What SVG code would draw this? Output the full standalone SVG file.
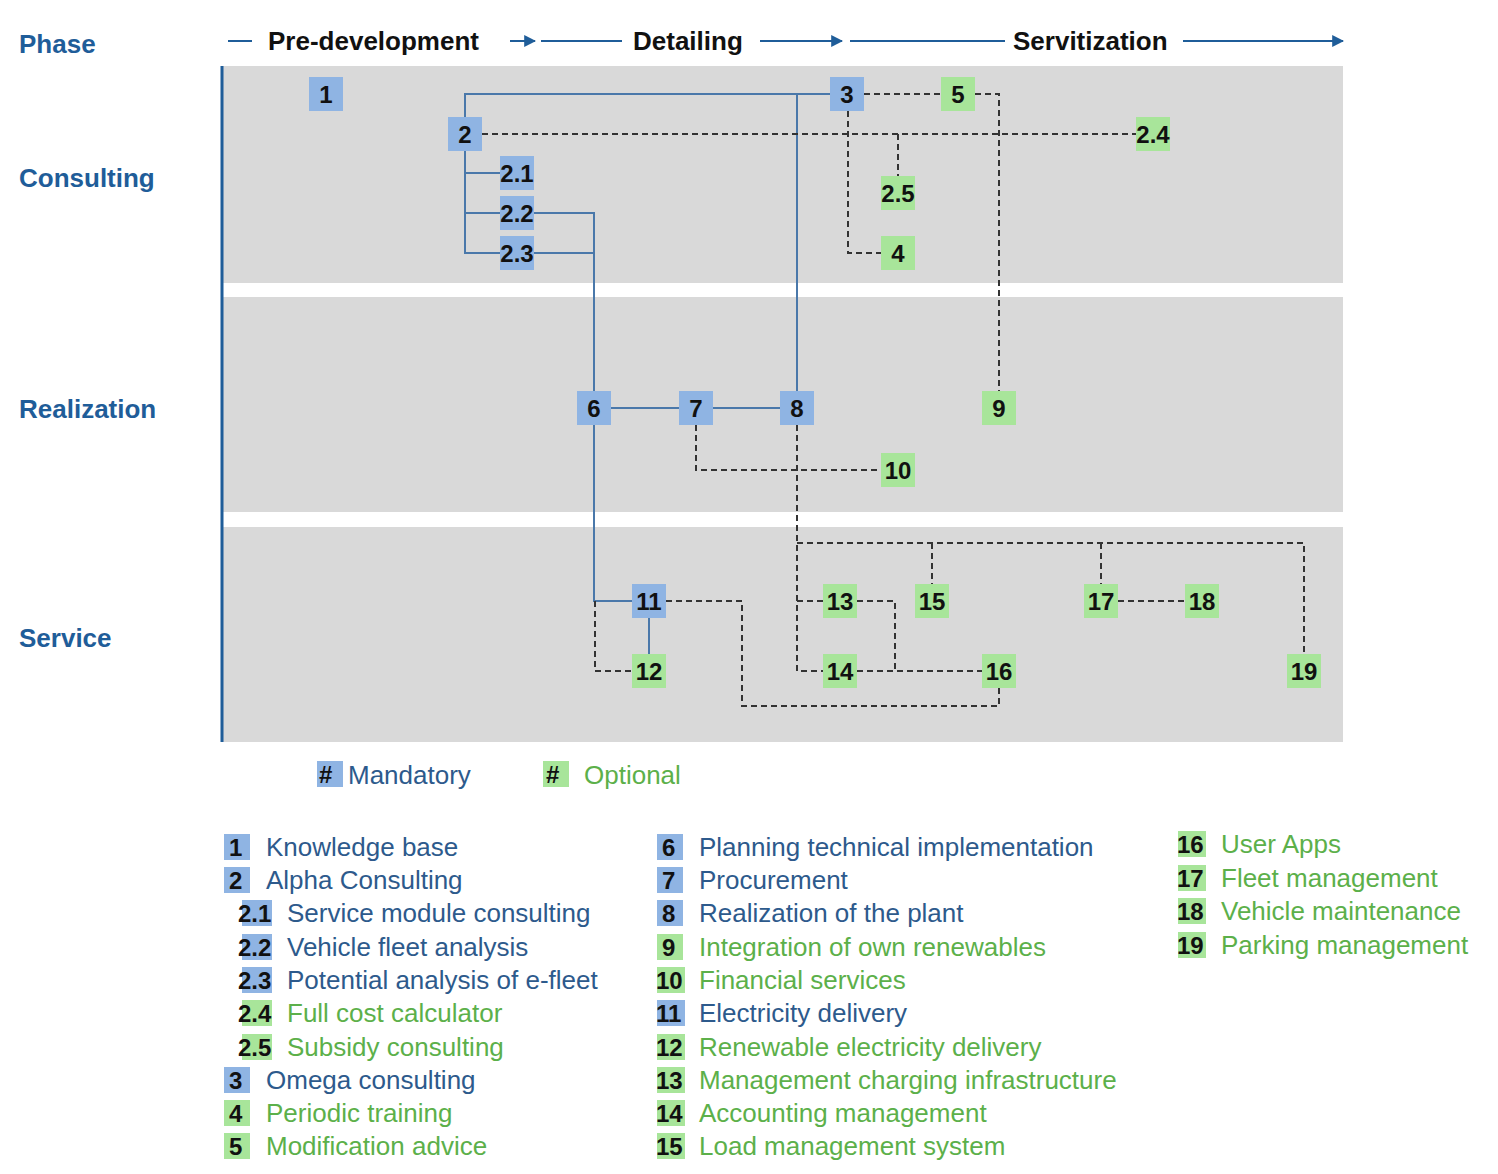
<svg xmlns="http://www.w3.org/2000/svg" width="1498" height="1174" viewBox="0 0 1498 1174">
<defs>
<style>
.band{fill:#d9d9d9}
.m{fill:#8fb4e3}
.o{fill:#a8e59a}
.n{font:bold 24px "Liberation Sans",Arial,sans-serif;fill:#111;text-anchor:middle}
.ph{font:bold 26px "Liberation Sans",Arial,sans-serif;fill:#1f5d99}
.hd{font:bold 26px "Liberation Sans",Arial,sans-serif;fill:#111}
.s{fill:none;stroke:#4a78aa;stroke-width:2}
.d{fill:none;stroke:#333;stroke-width:2;stroke-dasharray:6,4}
.lt{font:26px "Liberation Sans",Arial,sans-serif}
.lm{fill:#2d5a8c}
.lo{fill:#5cb04a}
.ln{font:bold 24px "Liberation Sans",Arial,sans-serif;fill:#111}
.ax{stroke:#1f5d99;stroke-width:2;fill:none}
</style>
<marker id="ah" viewBox="0 0 10 10" refX="9" refY="5" markerWidth="6" markerHeight="6" orient="auto"><path d="M0,0L10,5L0,10z" fill="#1f5d99"/></marker>
</defs>
<rect width="1498" height="1174" fill="#fff"/>
<g id="bands">
<rect class="band" x="222" y="66" width="1121" height="217"/>
<rect class="band" x="222" y="297" width="1121" height="215"/>
<rect class="band" x="222" y="527" width="1121" height="215"/>
<line x1="222" y1="66" x2="222" y2="742" stroke="#1f5d99" stroke-width="3"/>
</g>
<g id="header">
<text class="ph" x="19" y="53">Phase</text>
<text class="ph" x="19" y="187">Consulting</text>
<text class="ph" x="19" y="418">Realization</text>
<text class="ph" x="19" y="647">Service</text>
<line class="ax" x1="228" y1="41" x2="252" y2="41"/>
<text class="hd" x="268" y="50">Pre-development</text>
<line class="ax" x1="510" y1="41" x2="535" y2="41" marker-end="url(#ah)"/>
<line class="ax" x1="541" y1="41" x2="622" y2="41"/>
<text class="hd" x="633" y="50">Detailing</text>
<line class="ax" x1="760" y1="41" x2="842" y2="41" marker-end="url(#ah)"/>
<line class="ax" x1="850" y1="41" x2="1005" y2="41"/>
<text class="hd" x="1013" y="50">Servitization</text>
<line class="ax" x1="1183" y1="41" x2="1343" y2="41" marker-end="url(#ah)"/>
</g>
<g id="connectors">
<path class="s" d="M465,117V94H830M797,94V391M465,151V253H500M465,173H500M465,213H500M534,213H594V391M534,253H594M594,425V601H632M611,408H679M713,408H780M649,618V654"/>
<path class="d" d="M864,94H941M975,94H999V391M482,134H1136M898,134V176M848,111V253H881M696,425V470H881M797,425V671H823M797,543H1304V654M932,543V584M1101,543V584M797,601H823M857,601H895V671M857,671H982M1118,601H1185M666,601H742V706H999V688M595,601V671H632"/>
</g>
<g id="n1"><rect class="m" x="309" y="77" width="34" height="34"/><text class="n" x="326" y="103">1</text></g>
<g id="n2"><rect class="m" x="448" y="117" width="34" height="34"/><text class="n" x="465" y="143">2</text></g>
<g id="n2_1"><rect class="m" x="500" y="156" width="34" height="34"/><text class="n" x="517" y="182">2.1</text></g>
<g id="n2_2"><rect class="m" x="500" y="196" width="34" height="34"/><text class="n" x="517" y="222">2.2</text></g>
<g id="n2_3"><rect class="m" x="500" y="236" width="34" height="34"/><text class="n" x="517" y="262">2.3</text></g>
<g id="n3"><rect class="m" x="830" y="77" width="34" height="34"/><text class="n" x="847" y="103">3</text></g>
<g id="n5"><rect class="o" x="941" y="77" width="34" height="34"/><text class="n" x="958" y="103">5</text></g>
<g id="n2_4"><rect class="o" x="1136" y="117" width="34" height="34"/><text class="n" x="1153" y="143">2.4</text></g>
<g id="n2_5"><rect class="o" x="881" y="176" width="34" height="34"/><text class="n" x="898" y="202">2.5</text></g>
<g id="n4"><rect class="o" x="881" y="236" width="34" height="34"/><text class="n" x="898" y="262">4</text></g>
<g id="n6"><rect class="m" x="577" y="391" width="34" height="34"/><text class="n" x="594" y="417">6</text></g>
<g id="n7"><rect class="m" x="679" y="391" width="34" height="34"/><text class="n" x="696" y="417">7</text></g>
<g id="n8"><rect class="m" x="780" y="391" width="34" height="34"/><text class="n" x="797" y="417">8</text></g>
<g id="n9"><rect class="o" x="982" y="391" width="34" height="34"/><text class="n" x="999" y="417">9</text></g>
<g id="n10"><rect class="o" x="881" y="453" width="34" height="34"/><text class="n" x="898" y="479">10</text></g>
<g id="n11"><rect class="m" x="632" y="584" width="34" height="34"/><text class="n" x="649" y="610">11</text></g>
<g id="n12"><rect class="o" x="632" y="654" width="34" height="34"/><text class="n" x="649" y="680">12</text></g>
<g id="n13"><rect class="o" x="823" y="584" width="34" height="34"/><text class="n" x="840" y="610">13</text></g>
<g id="n15"><rect class="o" x="915" y="584" width="34" height="34"/><text class="n" x="932" y="610">15</text></g>
<g id="n17"><rect class="o" x="1084" y="584" width="34" height="34"/><text class="n" x="1101" y="610">17</text></g>
<g id="n18"><rect class="o" x="1185" y="584" width="34" height="34"/><text class="n" x="1202" y="610">18</text></g>
<g id="n14"><rect class="o" x="823" y="654" width="34" height="34"/><text class="n" x="840" y="680">14</text></g>
<g id="n16"><rect class="o" x="982" y="654" width="34" height="34"/><text class="n" x="999" y="680">16</text></g>
<g id="n19"><rect class="o" x="1287" y="654" width="34" height="34"/><text class="n" x="1304" y="680">19</text></g>
<g id="legend">
<rect class="m" x="317" y="761" width="26" height="26"/><text class="ln" x="319" y="783">#</text><text class="lt lm" x="348" y="784">Mandatory</text>
<rect class="o" x="543" y="761" width="26" height="26"/><text class="ln" x="546" y="783">#</text><text class="lt lo" x="584" y="784">Optional</text>
<g class="ln">
<rect class="m" x="224" y="834" width="26" height="26"/><text class="ln" x="229" y="856">1</text>
<rect class="m" x="224" y="867" width="26" height="26"/><text class="ln" x="229" y="889">2</text>
<rect class="m" x="242" y="900" width="30" height="26"/><text class="ln" x="238" y="922">2.1</text>
<rect class="m" x="242" y="934" width="30" height="26"/><text class="ln" x="238" y="956">2.2</text>
<rect class="m" x="242" y="967" width="30" height="26"/><text class="ln" x="238" y="989">2.3</text>
<rect class="o" x="242" y="1000" width="30" height="26"/><text class="ln" x="238" y="1022">2.4</text>
<rect class="o" x="242" y="1034" width="30" height="26"/><text class="ln" x="238" y="1056">2.5</text>
<rect class="m" x="224" y="1067" width="26" height="26"/><text class="ln" x="229" y="1089">3</text>
<rect class="o" x="224" y="1100" width="26" height="26"/><text class="ln" x="229" y="1122">4</text>
<rect class="o" x="224" y="1133" width="26" height="26"/><text class="ln" x="229" y="1155">5</text>
<rect class="m" x="657" y="834" width="26" height="26"/><text class="ln" x="662" y="856">6</text>
<rect class="m" x="657" y="867" width="26" height="26"/><text class="ln" x="662" y="889">7</text>
<rect class="m" x="657" y="900" width="26" height="26"/><text class="ln" x="662" y="922">8</text>
<rect class="o" x="657" y="934" width="26" height="26"/><text class="ln" x="662" y="956">9</text>
<rect class="o" x="657" y="967" width="28" height="26"/><text class="ln" x="656" y="989">10</text>
<rect class="m" x="657" y="1000" width="28" height="26"/><text class="ln" x="656" y="1022">11</text>
<rect class="o" x="657" y="1034" width="28" height="26"/><text class="ln" x="656" y="1056">12</text>
<rect class="o" x="657" y="1067" width="28" height="26"/><text class="ln" x="656" y="1089">13</text>
<rect class="o" x="657" y="1100" width="28" height="26"/><text class="ln" x="656" y="1122">14</text>
<rect class="o" x="657" y="1133" width="28" height="26"/><text class="ln" x="656" y="1155">15</text>
<rect class="o" x="1178" y="831" width="28" height="26"/><text class="ln" x="1177" y="853">16</text>
<rect class="o" x="1178" y="865" width="28" height="26"/><text class="ln" x="1177" y="887">17</text>
<rect class="o" x="1178" y="898" width="28" height="26"/><text class="ln" x="1177" y="920">18</text>
<rect class="o" x="1178" y="932" width="28" height="26"/><text class="ln" x="1177" y="954">19</text>
</g>
<text class="lt lm" x="266" y="856">Knowledge base</text>
<text class="lt lm" x="266" y="889">Alpha Consulting</text>
<text class="lt lm" x="287" y="922">Service module consulting</text>
<text class="lt lm" x="287" y="956">Vehicle fleet analysis</text>
<text class="lt lm" x="287" y="989">Potential analysis of e-fleet</text>
<text class="lt lo" x="287" y="1022">Full cost calculator</text>
<text class="lt lo" x="287" y="1056">Subsidy consulting</text>
<text class="lt lm" x="266" y="1089">Omega consulting</text>
<text class="lt lo" x="266" y="1122">Periodic training</text>
<text class="lt lo" x="266" y="1155">Modification advice</text>
<text class="lt lm" x="699" y="856">Planning technical implementation</text>
<text class="lt lm" x="699" y="889">Procurement</text>
<text class="lt lm" x="699" y="922">Realization of the plant</text>
<text class="lt lo" x="699" y="956">Integration of own renewables</text>
<text class="lt lo" x="699" y="989">Financial services</text>
<text class="lt lm" x="699" y="1022">Electricity delivery</text>
<text class="lt lo" x="699" y="1056">Renewable electricity delivery</text>
<text class="lt lo" x="699" y="1089">Management charging infrastructure</text>
<text class="lt lo" x="699" y="1122">Accounting management</text>
<text class="lt lo" x="699" y="1155">Load management system</text>
<text class="lt lo" x="1221" y="853">User Apps</text>
<text class="lt lo" x="1221" y="887">Fleet management</text>
<text class="lt lo" x="1221" y="920">Vehicle maintenance</text>
<text class="lt lo" x="1221" y="954">Parking management</text>
</g>
</svg>
